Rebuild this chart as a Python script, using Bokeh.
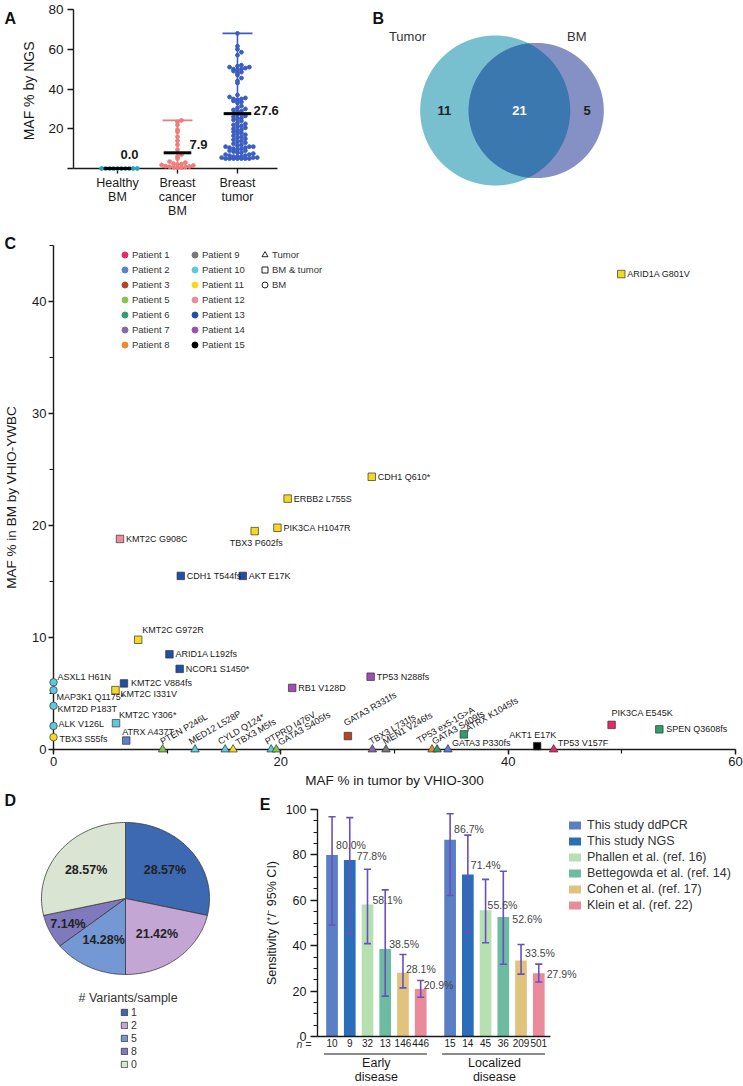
import numpy as np
from bokeh.plotting import figure
from bokeh.layouts import column, row
from bokeh.models import (Range1d, FixedTicker, SingleIntervalTicker,
                          Legend, LegendItem, LinearAxis)
from bokeh.core.properties import value
from bokeh.embed import file_html
from bokeh.resources import INLINE

FONT = "Liberation Sans"
INK = "#1a1a1a"

# ================= DATA =================
# ---- Panel A : MAF % by NGS ----
a_categories = ["Healthy\nBM", "Breast\ncancer\nBM", "Breast\ntumor"]
a_healthy_bm = [0.0, 0.0, 0.0, 0.0, 0.0, 0.0, 0.0, 0.0, 0.0, 0.0]
a_cancer_bm = [24.2, 23.5, 22.0, 19.5, 18.5, 16.0, 14.0, 12.0, 9.5, 7.0, 6.0, 5.0, 3.5,
               3.0, 2.5, 2.2, 2.0, 1.8, 1.5, 1.2, 1.0, 0.9, 0.8, 0.6, 0.5, 0.4]
a_tumor = [68.0, 61.5, 60.0, 58.5, 57.0,
           52.0, 51.5, 51.0, 51.0, 50.5, 50.0, 50.0, 49.5, 49.0, 48.5, 48.0, 47.0,
           45.5, 44.0, 43.0,
           37.0, 36.0, 35.5, 35.0, 35.0, 34.5, 34.0, 33.5, 33.0,
           31.5, 30.5, 30.0, 29.5, 29.0, 28.5, 28.0, 27.5, 27.0, 26.5, 26.0, 25.5, 25.0,
           24.5, 24.0, 23.0, 22.5, 22.0, 21.5, 21.0, 20.5, 20.0,
           19.5, 19.0, 18.5, 18.0, 17.5, 17.0, 16.5, 16.0, 15.5, 15.0, 14.5, 14.0, 13.5,
           13.0, 12.5, 12.0,
           11.5, 11.0, 11.0, 11.0, 10.5, 10.5, 10.0, 10.0,
           9.5, 9.0, 9.0, 8.5, 8.0, 8.0, 7.5, 7.0, 7.0, 6.5, 6.5, 6.0, 6.0, 6.0,
           5.5, 5.5, 5.5, 5.0, 5.0, 5.0, 5.0, 5.0, 5.0, 5.0]
a_means = [0.0, 7.9, 27.6]
a_colors = ["#1fa9b8", "#f27b7b", "#3b5ec0"]

# ---- Panel B : Venn ----
venn_sets = ["Tumor", "BM"]
venn_tumor_only = 11
venn_shared = 21
venn_bm_only = 5

# ---- Panel C : MAF tumor vs BM ----
c_variant = ["ASXL1 H61N", "MAP3K1 Q1175*", "KMT2D P183T", "ALK V126L", "TBX3 S55fs",
             "KMT2C Y306*", "ATRX A437T", "KMT2C I331V", "KMT2C V884fs", "KMT2C G972R",
             "ARID1A L192fs", "NCOR1 S1450*", "CDH1 T544fs", "AKT E17K", "KMT2C G908C",
             "TBX3 P602fs", "PIK3CA H1047R", "ERBB2 L755S", "CDH1 Q610*", "ARID1A G801V",
             "RB1 V128D", "TP53 N288fs", "GATA3 R331fs", "ATRX K1045fs", "AKT1 E17K",
             "PIK3CA E545K", "SPEN Q3608fs", "TP53 V157F", "PTEN P246L", "MED12 L528P",
             "CYLD Q124*", "TBX3 M5fs", "PTPRD I476V", "GATA3 S405fs", "TBX3 L731fs",
             "MEN1 V246fs", "TP53 ex5-1G>A", "GATA3 S409fs", "GATA3 P330fs"]
c_tumor_maf = [0.0, 0.0, 0.0, 0.0, 0.0,
               5.5, 6.4, 5.45, 6.2, 7.45,
               10.2, 11.1, 11.2, 16.65, 5.85,
               17.7, 19.7, 20.6, 28.0, 49.95,
               21.0, 27.9, 25.9, 36.1, 42.55,
               49.1, 53.3, 44.0, 9.6, 12.45,
               15.1, 15.8, 19.15, 19.6, 28.05,
               29.25, 33.3, 33.75, 34.7]
c_bm_maf = [6.0, 5.3, 3.9, 2.1, 1.1,
            2.35, 0.8, 5.3, 5.9, 9.8,
            8.5, 7.2, 15.5, 15.5, 18.8,
            19.5, 19.8, 22.4, 24.35, 42.45,
            5.5, 6.5, 1.2, 1.35, 0.3,
            2.2, 1.8, 0.0, 0.0, 0.0,
            0.0, 0.0, 0.0, 0.0, 0.0,
            0.0, 0.0, 0.0, 0.0]
c_patient = [10, 10, 10, 10, 11,
             10, 2, 11, 13, 11,
             13, 13, 13, 13, 12,
             11, 11, 11, 11, 11,
             14, 14, 3, 6, 15,
             1, 6, 1, 5, 10,
             10, 11, 10, 5, 7,
             9, 8, 6, 2]
c_sample = ["BM"] * 5 + ["BM & tumor"] * 22 + ["Tumor"] * 12
patient_ids = [1, 2, 3, 5, 6, 7, 8, 9, 10, 11, 12, 13, 14, 15]
patient_colors = ["#e8266a", "#5b80cc", "#b0452a", "#80c64a", "#2f9e6e", "#8867ab", "#ef8a2a",
                  "#777777", "#5cc9dd", "#f5d820", "#e88da0", "#1f4fa8", "#a04fb0", "#000000"]

# ---- Panel D : variants per sample ----
d_variants = ["1", "2", "5", "8", "0"]
d_percent = [28.57, 21.42, 14.28, 7.14, 28.57]
d_colors = ["#3d68b2", "#c3a6d4", "#7398d3", "#8079be", "#d9e4d3"]

# ---- Panel E : sensitivity ----
e_groups = ["Early\ndisease", "Localized\ndisease"]
e_studies = ["This study ddPCR", "This study NGS", "Phallen et al. (ref. 16)",
             "Bettegowda et al. (ref. 14)", "Cohen et al. (ref. 17)", "Klein et al. (ref. 22)"]
e_colors = ["#5b7fc4", "#2a6db8", "#b6e0b1", "#6dbba0", "#e0c47e", "#e98b9b"]
e_early_sens = [80.0, 77.8, 58.1, 38.5, 28.1, 20.9]
e_early_low = [49.1, 45.2, 40.9, 17.8, 21.4, 17.3]
e_early_high = [96.8, 96.4, 73.7, 64.6, 36.1, 24.7]
e_early_n = [10, 9, 32, 13, 146, 446]
e_local_sens = [86.7, 71.4, 55.6, 52.6, 33.5, 27.9]
e_local_low = [62.1, 45.5, 41.3, 31.8, 27.5, 24.0]
e_local_high = [98.1, 88.7, 69.2, 72.8, 40.5, 31.9]
e_local_n = [15, 14, 45, 36, 209, 501]


# ================= HELPERS =================
def fig(**kw):
    p = figure(output_backend="svg", toolbar_location=None, **kw)
    p.frame_align = False
    return p


def style_axes(p, tick_size, label_size):
    for ax in p.axis:
        ax.axis_line_color = INK
        ax.axis_line_width = 1.4
        ax.major_tick_line_color = INK
        ax.major_tick_line_width = 1.4
        ax.minor_tick_line_color = INK
        ax.minor_tick_line_width = 1.2
        ax.major_tick_in = 0
        ax.minor_tick_in = 0
        ax.major_label_text_font = FONT
        ax.major_label_text_font_size = tick_size
        ax.major_label_text_color = INK
        ax.axis_label_text_font = FONT
        ax.axis_label_text_font_size = label_size
        ax.axis_label_text_font_style = "normal"
        ax.axis_label_text_color = INK
    p.grid.visible = False
    p.outline_line_color = None


def letter(p, txt, x, y):
    p.text(x=[x], y=[y], text=[txt], text_font=value(FONT), text_font_size="16px",
           text_font_style="bold", text_color="#111111", text_baseline="middle",
           text_align="left", level="overlay")


def swarm(vals, bin_w, step):
    vals = np.asarray(vals, float)
    offs = np.zeros(len(vals))
    counts = {}
    for i in np.argsort(vals, kind="stable"):
        b = int(np.floor(vals[i] / bin_w + 1e-9))
        k = counts.get(b, 0)
        counts[b] = k + 1
        m = (k + 1) // 2
        offs[i] = (m if k % 2 == 1 else -m) * step
    return offs


# ================= PANEL A =================
pA = fig(width=300, height=220, x_range=Range1d(0.267, 3.667), y_range=Range1d(0, 80),
         min_border_left=73, min_border_right=23, min_border_top=9, min_border_bottom=44)
a_sets = [a_healthy_bm, a_cancer_bm, a_tumor]
for i, (vals, col) in enumerate(zip(a_sets, a_colors)):
    xc = i + 1
    lo, hi = min(vals), max(vals)
    if hi > lo:
        pA.segment([xc, xc - 0.25, xc - 0.25], [lo, hi, lo], [xc, xc + 0.25, xc + 0.25], [hi, hi, lo],
                   line_color=col, line_width=1.6)
    xs = xc + swarm(vals, 1.9, 0.066)
    pA.scatter(xs, vals, size=3.8, color=col, level="overlay")
    pA.segment([xc - 0.23], [a_means[i]], [xc + 0.23], [a_means[i]], line_color="black",
               line_width=3, level="overlay")
pA.text(x=[1, 2, 3], y=a_means, text=[f"{m:.1f}" for m in a_means],
        x_offset=[3, 12, 16], y_offset=[-14, -8, -3],
        text_font=value(FONT), text_font_size="13px", text_font_style="bold", text_color=INK,
        text_align="left", text_baseline="middle", level="overlay")
style_axes(pA, "13.5px", "14px")
pA.xaxis.ticker = FixedTicker(ticks=[1, 2, 3])
pA.xaxis.major_label_overrides = {i + 1: c for i, c in enumerate(a_categories)}
pA.xaxis.major_tick_out = 5
pA.xaxis.major_label_standoff = 2
pA.xaxis.major_label_text_font_size = "12.5px"
pA.xaxis.major_label_text_line_height = 1.0
pA.yaxis.ticker = FixedTicker(ticks=[0, 20, 40, 60, 80])
pA.yaxis.major_label_overrides = {0: ""}
pA.yaxis.major_tick_out = 6
pA.yaxis.major_label_standoff = 4
pA.yaxis.axis_label = "MAF %  by NGS"
pA.yaxis.axis_label_standoff = 8
letter(pA, "A", -0.883, 75.7)

# ================= PANEL B =================
pB = fig(width=443, height=220, x_range=Range1d(0, 443), y_range=Range1d(0, 220),
         x_axis_location=None, y_axis_location=None, min_border=0)
pB.grid.visible = False
pB.outline_line_color = None
scale_r = 13.26
r_t = scale_r * np.sqrt(venn_tumor_only + venn_shared)
r_b = scale_r * np.sqrt(venn_bm_only + venn_shared)
cx_t, cy = 194.7, 110.0
cx_b = cx_t + 41.0
th = np.linspace(-np.pi, np.pi, 1441)
tx, ty = cx_t + r_t * np.cos(th), cy + r_t * np.sin(th)
ph = np.linspace(0, 2 * np.pi, 1441)
bx, by = cx_b + r_b * np.cos(ph), cy + r_b * np.sin(ph)
in_b = (tx - cx_b) ** 2 + (ty - cy) ** 2 <= r_b ** 2
in_t = (bx - cx_t) ** 2 + (by - cy) ** 2 <= r_t ** 2
pB.patch(list(tx), list(ty), fill_color="#78c0cf", line_color=None)
pB.patch(list(bx), list(by), fill_color="#8591c4", line_color=None)
lens_x = list(tx[in_b]) + list(bx[in_t])
lens_y = list(ty[in_b]) + list(by[in_t])
pB.patch(lens_x, lens_y, fill_color="#3c78b0", line_color=None)
pB.text(x=[cx_t - 1.17 * r_t, cx_b + 0.6 * r_b], y=[cy + 0.99 * r_t, cy + 0.99 * r_t],
        text=venn_sets, text_font=value(FONT), text_font_size="13px", text_color="#333333",
        text_align="center", text_baseline="middle")
left_t, left_b, right_t, right_b = cx_t - r_t, cx_b - r_b, cx_t + r_t, cx_b + r_b
pB.text(x=[(left_t + left_b) / 2, (left_b + right_t) / 2, (right_t + right_b) / 2], y=[cy, cy, cy],
        text=[str(venn_tumor_only), str(venn_shared), str(venn_bm_only)],
        text_color=["#222222", "#ffffff", "#222222"],
        text_font=value(FONT), text_font_size="13px", text_font_style="bold",
        text_align="center", text_baseline="middle")
letter(pB, "B", 72, 202)

# ================= PANEL C =================
pC = fig(width=743, height=570, x_range=Range1d(0, 60), y_range=Range1d(0, 45),
         min_border_left=53, min_border_right=8, min_border_top=25, min_border_bottom=41)
style_axes(pC, "13px", "13.5px")
pC.xaxis.ticker = SingleIntervalTicker(interval=20, num_minor_ticks=2)
pC.yaxis.ticker = SingleIntervalTicker(interval=10, num_minor_ticks=2)
for ax in pC.axis:
    ax.major_tick_out = 5
    ax.minor_tick_out = 4
    ax.major_label_standoff = 2
    ax.axis_label_standoff = 4
pC.xaxis.axis_label = "MAF % in tumor by VHIO-300"
pC.yaxis.axis_label = "MAF % in BM by VHIO-YWBC"
pC.yaxis.axis_label_standoff = 10

pcol = dict(zip(patient_ids, patient_colors))
markers = {"Tumor": ("triangle", 8.5), "BM & tumor": ("square", 7.5), "BM": ("circle", 7.5)}
for samp, (mk, sz) in markers.items():
    idx = [i for i, s in enumerate(c_sample) if s == samp]
    pC.scatter([c_tumor_maf[i] for i in idx], [c_bm_maf[i] for i in idx], marker=mk, size=sz,
               fill_color=[pcol[c_patient[i]] for i in idx], line_color="#333333", line_width=0.7,
               level="overlay")

c_label_style = {
    "ASXL1 H61N": (4, -5, 0), "MAP3K1 Q1175*": (3, 7, 0), "KMT2D P183T": (4, 3, 0),
    "ALK V126L": (5, -2, 0), "TBX3 S55fs": (6, 2, 0), "KMT2C Y306*": (3, -8, 0),
    "ATRX A437T": (-4, -9, 0), "KMT2C I331V": (5, 4, 0), "KMT2C V884fs": (7, 0, 0),
    "KMT2C G972R": (4, -10, 0), "ARID1A L192fs": (6, 0, 0), "NCOR1 S1450*": (6, 0, 0),
    "CDH1 T544fs": (6, 0, 0), "AKT E17K": (6, 0, 0), "KMT2C G908C": (6, 0, 0),
    "TBX3 P602fs": (-25, 12, 0), "PIK3CA H1047R": (6, 0, 0), "ERBB2 L755S": (6, 0, 0),
    "CDH1 Q610*": (6, 0, 0), "ARID1A G801V": (6, 0, 0), "RB1 V128D": (6, 0, 0),
    "TP53 N288fs": (6, 0, 0), "PIK3CA E545K": (0, -12, 0), "SPEN Q3608fs": (7, 0, 0),
    "TP53 V157F": (4, -7, 0), "GATA3 P330fs": (4, -7, 0), "AKT1 E17K": (-28, -11, 0),
    "PTEN P246L": (1, -3, 1), "MED12 L528P": (-3, -3, 1), "CYLD Q124*": (-4, -3, 1),
    "TBX3 M5fs": (6, -2, 1), "PTPRD I476V": (-3, -3, 1), "GATA3 S405fs": (5, -2, 1),
    "GATA3 R331fs": (-1, -8, 1), "TBX3 L731fs": (0, -3, 1), "MEN1 V246fs": (0, -3, 1),
    "TP53 ex5-1G>A": (-12, -4, 1), "GATA3 S409fs": (-2, -3, 1), "ATRX K1045fs": (5, -1, 1),
}
for rot in (0, 1):
    idx = [i for i, v in enumerate(c_variant) if c_label_style[v][2] == rot]
    pC.text(x=[c_tumor_maf[i] for i in idx], y=[c_bm_maf[i] for i in idx],
            text=[c_variant[i] for i in idx],
            x_offset=[c_label_style[c_variant[i]][0] for i in idx],
            y_offset=[c_label_style[c_variant[i]][1] for i in idx],
            angle=np.pi / 6 if rot else 0,
            text_font=value(FONT), text_font_size="9px", text_color=INK,
            text_align="left", text_baseline="bottom" if rot else "middle", level="overlay")

leg_items = []
for pid, col in zip(patient_ids, patient_colors):
    r = pC.scatter(x=[np.nan], y=[np.nan], marker="circle", fill_color=col, line_color=col, size=7)
    leg_items.append(LegendItem(label=f"Patient {pid}", renderers=[r]))
for samp in ["Tumor", "BM & tumor", "BM"]:
    r = pC.scatter(x=[np.nan], y=[np.nan], marker=markers[samp][0], fill_color=None,
                   line_color="#222222", line_width=1.0)
    leg_items.append(LegendItem(label=samp, renderers=[r]))
legC = Legend(items=leg_items, location=(64, 397), orientation="vertical", nrows=7,
              glyph_width=15, glyph_height=15, label_height=15, label_width=55, spacing=0,
              label_standoff=0, padding=0, margin=0, label_text_font=FONT,
              label_text_font_size="9.5px", label_text_color="#333333",
              background_fill_alpha=0, border_line_color=None)
pC.add_layout(legC)
letter(pC, "C", -4.31, 45.18)

# ================= PANEL D =================
pD = fig(width=248, height=296, x_range=Range1d(-1.488, 1.464), y_range=Range1d(-2.474, 1.421),
         x_axis_location=None, y_axis_location=None, min_border=0)
pD.grid.visible = False
pD.outline_line_color = None
tot = sum(d_percent)
ang = np.pi / 2
pxs, pys, lx, ly = [], [], [], []
for pct in d_percent:
    sweep = 2 * np.pi * pct / tot
    t = np.linspace(ang, ang - sweep, 80)
    pxs.append([0.0] + list(np.cos(t)))
    pys.append([0.0] + list(np.sin(t)))
    mid = ang - sweep / 2
    rr = 0.6 if pct > 10 else 0.76
    lx.append(rr * np.cos(mid))
    ly.append(rr * np.sin(mid))
    ang -= sweep
pie = pD.patches(pxs, pys, fill_color=d_colors, line_color="#3a3a3a", line_width=0.8)
pD.text(x=lx, y=ly, text=[f"{v:.2f}%" for v in d_percent], text_font=value(FONT),
        text_font_size="12.5px", text_font_style="bold", text_color="#222222",
        text_align="center", text_baseline="middle")
pD.text(x=[0.03], y=[-1.303], text=["# Variants/sample"], text_font=value(FONT),
        text_font_size="12.5px", text_color="#333333", text_align="center",
        text_baseline="middle")
legD = Legend(items=[LegendItem(label=v, renderers=[pie], index=i) for i, v in enumerate(d_variants)],
              location=(120, 16), glyph_width=8, glyph_height=8, label_height=10, spacing=1,
              label_standoff=3, padding=0, margin=0, label_text_font=FONT,
              label_text_font_size="10.5px", label_text_color="#333333",
              background_fill_alpha=0, border_line_color=None)
pD.add_layout(legD)
letter(pD, "D", -1.44, 1.289)

# ================= PANEL E =================
# frame spans the bar area plus the legend area; axis line limited by bounds
e_px_per_unit = 17.73
e_x0 = -0.82
e_x1 = e_x0 + (495 - 69 - 8) / e_px_per_unit
pE = fig(width=495, height=296, x_range=Range1d(e_x0, e_x1), y_range=Range1d(0, 100),
         min_border_left=69, min_border_right=8, min_border_top=19, min_border_bottom=46)
gap = 0.66
n_st = len(e_studies)
x_early = [float(i) for i in range(n_st)]
x_local = [n_st + gap + i for i in range(n_st)]
e_axis_end = x_local[-1] + 0.68
bar_rs = []
for i in range(n_st):
    r = pE.vbar(x=[x_early[i], x_local[i]], top=[e_early_sens[i], e_local_sens[i]], width=0.66,
                fill_color=e_colors[i], line_color=None)
    bar_rs.append(r)
xs_all = x_early + x_local
lo_all = e_early_low + e_local_low
hi_all = e_early_high + e_local_high
sens_all = e_early_sens + e_local_sens
ecol = "#6a4fbf"
pE.segment(xs_all, lo_all, xs_all, hi_all, line_color=ecol, line_width=1.6)
cap = 0.2
pE.segment([x - cap for x in xs_all], lo_all, [x + cap for x in xs_all], lo_all, line_color=ecol, line_width=1.6)
pE.segment([x - cap for x in xs_all], hi_all, [x + cap for x in xs_all], hi_all, line_color=ecol, line_width=1.6)
e_lab_dx = [4, 7, 5, 4, 3, 3, 4, 3, 2, 9, 4, 8]
e_lab_dy = [-10, -4, -5, -5, -4, -4, -11, -9, -5, 2, -7, 1]
pE.text(x=xs_all, y=sens_all, text=[f"{v:.1f}%" for v in sens_all], x_offset=e_lab_dx,
        y_offset=e_lab_dy, text_font=value(FONT), text_font_size="10.5px", text_color="#444444",
        text_align="left", text_baseline="middle", level="overlay")
style_axes(pE, "12.5px", "12.5px")
pE.yaxis.ticker = SingleIntervalTicker(interval=20, num_minor_ticks=4)
pE.yaxis.major_tick_out = 7
pE.yaxis.minor_tick_out = 4
pE.yaxis.major_label_standoff = 4
pE.yaxis.axis_label = "Sensitivity (\u207a/\u207b 95% CI)"
pE.yaxis.axis_label_standoff = 4
pE.xaxis.ticker = FixedTicker(ticks=xs_all)
pE.xaxis.bounds = (e_x0, e_axis_end)
pE.xaxis.major_label_overrides = {x: str(n) for x, n in zip(xs_all, e_early_n + e_local_n)}
pE.xaxis.major_tick_out = 0
pE.xaxis.major_label_standoff = 2
pE.xaxis.major_label_text_font_size = "10px"
grp_centers = [(x_early[0] + x_early[-1]) / 2, (x_local[0] + x_local[-1]) / 2]
grp_axis = LinearAxis(ticker=FixedTicker(ticks=grp_centers),
                      major_label_overrides={c: g for c, g in zip(grp_centers, e_groups)},
                      axis_line_color=None, major_tick_line_color=None, minor_tick_line_color=None,
                      major_tick_out=0, major_label_standoff=6, major_label_text_font=FONT,
                      major_label_text_font_size="12.5px", major_label_text_color=INK,
                      major_label_text_line_height=1.0)
pE.add_layout(grp_axis, "below")
pE.segment([x_early[0] - 0.45, x_local[0] - 0.45], [-7.7, -7.7], [x_early[-1] + 0.35, x_local[-1] + 0.35],
           [-7.7, -7.7], line_color=INK, line_width=1.2, level="overlay")
pE.text(x=[e_x0], y=[-3.5], x_offset=-6, text=["n ="], text_font=value(FONT),
        text_font_size="10.5px", text_font_style="italic", text_color="#333333",
        text_align="right", text_baseline="middle", level="overlay")
legE = Legend(items=[LegendItem(label=s, renderers=[r]) for s, r in zip(e_studies, bar_rs)],
              location=(250, 124), glyph_width=15, glyph_height=10, label_height=14, spacing=2,
              label_standoff=5, padding=0, margin=0, label_text_font=FONT,
              label_text_font_size="12.5px", label_text_color="#333333",
              background_fill_alpha=0, border_line_color=None)
pE.add_layout(legE)
letter(pE, "E", e_x0 - 57.7 / e_px_per_unit, 102.2)

layout = column(row(pA, pB), pC, row(pD, pE))
open("out.html", "w").write(file_html(layout, INLINE))
